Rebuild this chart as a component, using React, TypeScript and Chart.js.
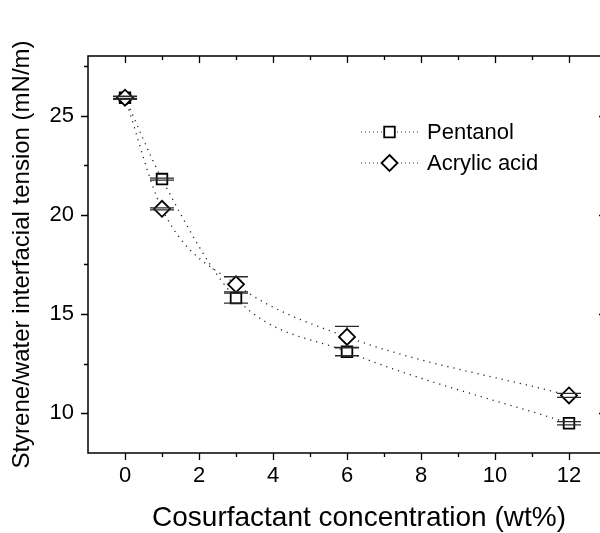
import React, { useEffect, useRef } from 'react';
import { Chart, registerables } from 'chart.js';

Chart.register(...registerables);

// Interfacial tension vs. cosurfactant loading
const cosurfactantWt = [0, 1, 3, 6, 12];
const pentanolTension = [25.9, 21.8, 15.8, 13.1, 9.5];
const pentanolError = [0.08, 0.05, 0.25, 0.2, 0.08];
const acrylicTension = [25.9, 20.3, 16.5, 13.85, 10.9];
const acrylicError = [0.05, 0.05, 0.38, 0.53, 0.1];

const seriesNames = ['Pentanol', 'Acrylic acid'];
const xAxisTitle = 'Cosurfactant concentration (wt%)';
const yAxisTitle = 'Styrene/water interfacial tension (mN/m)';

const xTickValues = [0, 2, 4, 6, 8, 10, 12];
const xMinorValues = [1, 3, 5, 7, 9, 11];
const yTickValues = [10, 15, 20, 25];
const yMinorValues = [12.5, 17.5, 22.5, 27.5];

const FONT = "'Liberation Sans', Arial, Helvetica, sans-serif";
const INK = '#000';
const markerStyles = ['rect', 'rectRot'];
const markerRadii = [7.5, 8];

function drawMarker(ctx: CanvasRenderingContext2D, style: string, x: number, y: number, r: number) {
  ctx.beginPath();
  if (style === 'rect') {
    const h = r * Math.SQRT1_2;
    ctx.rect(x - h, y - h, 2 * h, 2 * h);
  } else {
    ctx.moveTo(x, y - r);
    ctx.lineTo(x + r, y);
    ctx.lineTo(x, y + r);
    ctx.lineTo(x - r, y);
    ctx.closePath();
  }
  ctx.fillStyle = '#fff';
  ctx.fill();
  ctx.strokeStyle = INK;
  ctx.lineWidth = 1.8;
  ctx.stroke();
}

const framePlugin = {
  id: 'originFrame',
  afterDatasetsDraw(chart: any) {
    // error bars: stems run from the symbol edge out to the caps
    const { ctx, scales } = chart;
    const xs = scales.x;
    const ys = scales.y;
    const errorSets = [pentanolError, acrylicError];
    ctx.save();
    ctx.strokeStyle = '#2a2a2a';
    ctx.lineWidth = 1.3;
    chart.data.datasets.forEach((ds: any, i: number) => {
      const errs = errorSets[i];
      const half = markerStyles[i] === 'rect' ? markerRadii[i] * Math.SQRT1_2 : markerRadii[i];
      ds.data.forEach((p: any, j: number) => {
        const px = xs.getPixelForValue(p.x);
        const py = ys.getPixelForValue(p.y);
        const yTop = ys.getPixelForValue(p.y + errs[j]);
        const yBot = ys.getPixelForValue(p.y - errs[j]);
        const cap = 12;
        ctx.beginPath();
        if (py - yTop > half) {
          ctx.moveTo(px, py - half);
          ctx.lineTo(px, yTop);
        }
        if (yBot - py > half) {
          ctx.moveTo(px, py + half);
          ctx.lineTo(px, yBot);
        }
        ctx.moveTo(px - cap, yTop);
        ctx.lineTo(px + cap, yTop);
        ctx.moveTo(px - cap, yBot);
        ctx.lineTo(px + cap, yBot);
        ctx.stroke();
      });
    });
    ctx.restore();
  },
  afterDraw(chart: any) {
    const { ctx, chartArea, scales } = chart;
    const { left, right, top, bottom } = chartArea;
    const xs = scales.x;
    const ys = scales.y;
    ctx.save();
    ctx.strokeStyle = INK;
    ctx.lineWidth = 1.5;
    ctx.strokeRect(left, top, right - left, bottom - top);

    ctx.lineWidth = 1.3;
    ctx.beginPath();
    const hTick = (v: number, len: number) => {
      const px = Math.round(xs.getPixelForValue(v)) + 0.5;
      ctx.moveTo(px, bottom);
      ctx.lineTo(px, bottom + len);
      ctx.moveTo(px, top);
      ctx.lineTo(px, top + len);
    };
    const vTick = (v: number, len: number) => {
      const py = Math.round(ys.getPixelForValue(v)) + 0.5;
      ctx.moveTo(left, py);
      ctx.lineTo(left - len, py);
      ctx.moveTo(right, py);
      ctx.lineTo(right - len, py);
    };
    xTickValues.forEach((v) => hTick(v, 7));
    xMinorValues.forEach((v) => hTick(v, 4));
    yTickValues.forEach((v) => vTick(v, 7));
    yMinorValues.forEach((v) => vTick(v, 4));
    ctx.stroke();

    // x-axis title
    ctx.fillStyle = INK;
    ctx.font = `28px ${FONT}`;
    ctx.textAlign = 'center';
    ctx.textBaseline = 'alphabetic';
    ctx.fillText(xAxisTitle, left + 271, bottom + 73);

    // legend: dotted sample line with marker, then name
    const lx0 = left + 273;
    const lx1 = left + 330;
    const textX = left + 339;
    seriesNames.forEach((name, i) => {
      const ly = top + 76 + i * 31;
      ctx.save();
      ctx.setLineDash([1, 3]);
      ctx.lineWidth = 1.2;
      ctx.strokeStyle = '#333';
      ctx.beginPath();
      ctx.moveTo(lx0, ly);
      ctx.lineTo(lx1, ly);
      ctx.stroke();
      ctx.restore();
      drawMarker(ctx, markerStyles[i], (lx0 + lx1) / 2, ly, markerRadii[i]);
      ctx.fillStyle = INK;
      ctx.font = `22px ${FONT}`;
      ctx.textBaseline = 'middle';
      ctx.textAlign = 'left';
      ctx.fillText(name, textX, ly + 1);
    });
    ctx.restore();
  },
};

export default function App() {
  const canvasRef = useRef<HTMLCanvasElement | null>(null);

  useEffect(() => {
    const canvas = canvasRef.current;
    if (!canvas) return;

    const seriesLine = {
      borderColor: '#222',
      borderWidth: 1.3,
      borderDash: [1.2, 5],
      pointBackgroundColor: '#fff',
      pointBorderColor: INK,
      pointBorderWidth: 1.8,
      cubicInterpolationMode: 'monotone' as const,
      fill: false,
    };

    const chart = new Chart(canvas, {
      type: 'line',
      data: {
        datasets: [
          {
            ...seriesLine,
            label: seriesNames[0],
            data: cosurfactantWt.map((x, i) => ({ x, y: pentanolTension[i] })),
            pointStyle: markerStyles[0],
            pointRadius: markerRadii[0],
            order: 1,
          },
          {
            ...seriesLine,
            label: seriesNames[1],
            data: cosurfactantWt.map((x, i) => ({ x, y: acrylicTension[i] })),
            pointStyle: markerStyles[1],
            pointRadius: markerRadii[1],
            order: 0,
          },
        ],
      },
      options: {
        responsive: false,
        animation: false,
        events: [],
        layout: { padding: { left: 0, top: 56, right: 14, bottom: 0 } },
        plugins: {
          legend: { display: false },
          tooltip: { enabled: false },
        },
        scales: {
          x: {
            type: 'linear',
            min: -1,
            max: 13,
            afterBuildTicks: (s: any) => {
              s.ticks = xTickValues.map((v) => ({ value: v }));
            },
            afterFit: (s: any) => {
              s.height = 80;
            },
            grid: { display: false, drawTicks: false },
            border: { display: false },
            ticks: {
              color: INK,
              font: { family: FONT, size: 22 },
              padding: 10,
              maxRotation: 0,
              autoSkip: false,
            },
            title: { display: false },
          },
          y: {
            type: 'linear',
            min: 8,
            max: 28,
            afterBuildTicks: (s: any) => {
              s.ticks = yTickValues.map((v) => ({ value: v }));
            },
            afterFit: (s: any) => {
              s.width = 88;
            },
            grid: { display: false, drawTicks: false },
            border: { display: false },
            ticks: {
              color: INK,
              font: { family: FONT, size: 22 },
              padding: 14,
              autoSkip: false,
            },
            title: {
              display: true,
              text: yAxisTitle,
              color: INK,
              font: { family: FONT, size: 24 },
              padding: { top: 8, bottom: 0 },
            },
          },
        },
      },
      plugins: [framePlugin],
    });

    return () => {
      chart.destroy();
    };
  }, []);

  return (
    <div
      style={{
        position: 'absolute',
        left: 0,
        top: 0,
        width: 600,
        height: 533,
        overflow: 'hidden',
        background: '#fff',
      }}
    >
      <canvas ref={canvasRef} width={620} height={533} style={{ display: 'block' }} />
    </div>
  );
}
